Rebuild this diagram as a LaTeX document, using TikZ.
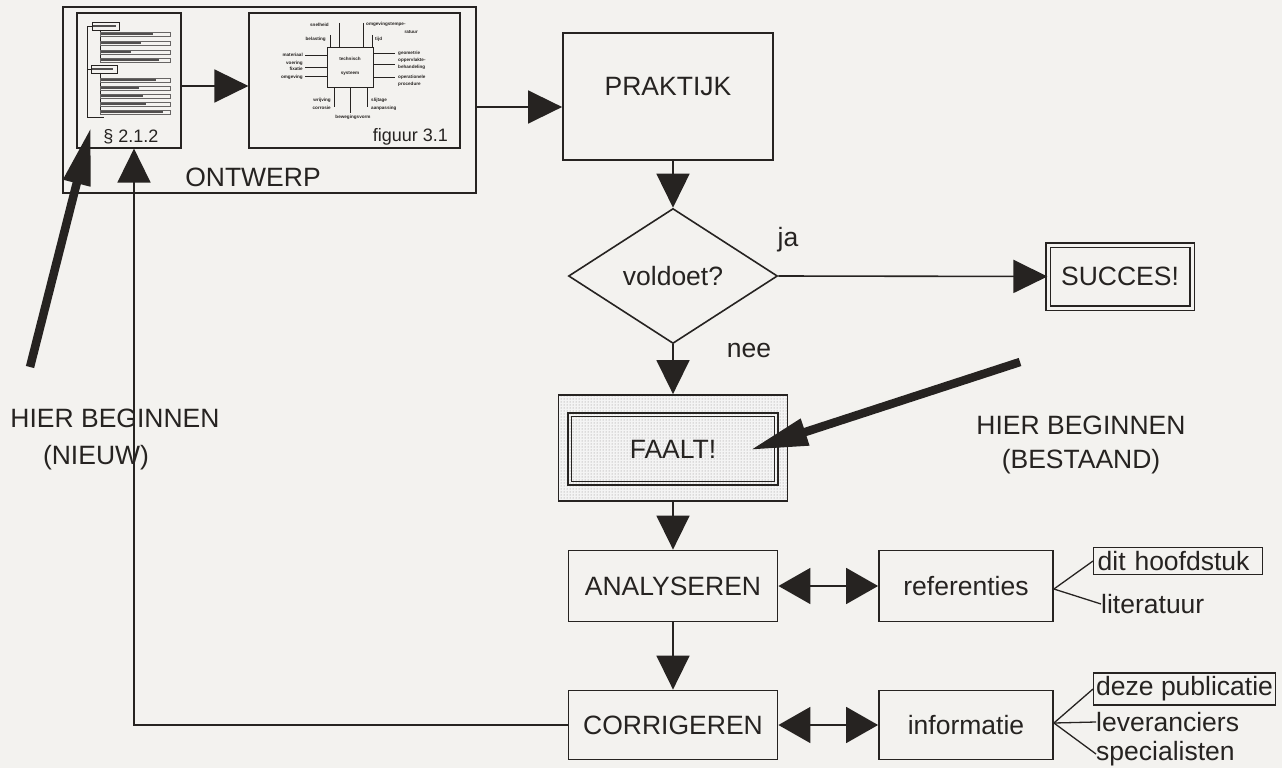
\documentclass[tikz,border=0pt]{standalone}
\usepackage{fontspec}
\setmainfont{Liberation Sans}
\usetikzlibrary{arrows.meta,shapes.geometric,patterns,calc}
\definecolor{paper}{RGB}{243,242,239}
\definecolor{ink}{RGB}{38,35,33}
\begin{document}
\begin{tikzpicture}[x=1pt,y=-1pt,line join=miter,
  every node/.style={text=ink},
  lbl/.style={font=\fontsize{26.5}{30}\selectfont, inner sep=0},
  small/.style={font=\fontsize{18}{20}\selectfont, inner sep=0},
  tiny/.style={font=\fontsize{4.6}{5}\selectfont\bfseries, inner sep=0},
  box/.style={draw=ink, line width=1.8, font=\fontsize{26.5}{30}\selectfont, inner sep=0},
  arr/.style={draw=ink, line width=1.6, -{Triangle[length=34,width=33]}},
  darr/.style={draw=ink, line width=1.6, {Triangle[length=32,width=36]}-{Triangle[length=32,width=36]}},
  bigarr/.style={draw=ink, line width=8.5, -{Triangle[length=58,width=26]}},
  thin/.style={draw=ink, line width=0.7}]
\fill[paper] (0,0) rectangle (1282,768);
\useasboundingbox (0,0) rectangle (1282,768);

% ---------- ONTWERP ----------
\node[box, line width=2.2, minimum width=413, minimum height=186] (ontwerp) at (269.5,100) {};
\node[lbl] (ontwerplbl) at (253,177) {ONTWERP};
\node[box, line width=1.2, minimum width=104, minimum height=135] (sec) at (129,80.5) {};
\node[small] (seclbl) at (131,137) {§ 2.1.2};
\node[box, line width=1.2, minimum width=211, minimum height=135] (fig) at (354.5,80.5) {};
\node[small, anchor=east] (figlbl) at (448,137) {figuur 3.1};

% outline thumbnail
\draw[thin] (92,22) rectangle (119,30);
\fill[ink!80] (93,25) rectangle (116,27.5);
\draw[thin] (91,65) rectangle (117,73);
\fill[ink!80] (92,68) rectangle (113,70.5);
\draw[thin] (92,26) -- (87,26) -- (87,117) -- (104,117);
\draw[thin] (87,69) -- (91,69);
\draw[thin] (100,30) -- (100,60);
\draw[thin] (100,73) -- (100,112);
\foreach \y/\l in {34/52,43/40,52/30,60/58}{
  \draw[thin, draw=ink!70] (100,\y-2) rectangle (170,\y+2);
  \fill[ink!80] (101,\y-1) rectangle (101+\l,\y+1);}
\foreach \y/\l in {80/55,88/38,96/42,104/45,112/62}{
  \draw[thin, draw=ink!70] (100,\y-2) rectangle (170,\y+2);
  \fill[ink!80] (101,\y-1) rectangle (101+\l,\y+1);}

% technical system thumbnail
\node[draw=ink, line width=0.8, minimum width=46, minimum height=40, inner sep=0] (tech) at (350,67) {};
\node[tiny] (t1) at (350,59) {technisch};
\node[tiny] (t2) at (350,73) {systeem};
\draw[thin] (330,35) -- (330,47);
\draw[thin] (339,23) -- (339,47);
\draw[thin] (363,23) -- (363,47);
\draw[thin] (372,35) -- (372,47);
\node[tiny, anchor=east] at (329,25) {snelheid};
\node[tiny, anchor=east] at (326,39) {belasting};
\node[tiny, anchor=west] at (366,24) {omgevingstempe-};
\node[tiny, anchor=east] at (418,32) {ratuur};
\node[tiny, anchor=west] at (375,39) {tijd};
\foreach \y in {55,67,76}{\draw[thin] (305,\y) -- (327,\y);}
\node[tiny, anchor=east] at (303,55) {materiaal};
\node[tiny, anchor=east] at (303,63) {voering};
\node[tiny, anchor=east] at (303,69) {fixatie};
\node[tiny, anchor=east] at (303,77) {omgeving};
\foreach \y in {53,64,77}{\draw[thin] (373,\y) -- (395,\y);}
\node[tiny, anchor=west] at (398,53) {geometrie};
\node[tiny, anchor=west] at (398,60) {oppervlakte-};
\node[tiny, anchor=west] at (398,67) {behandeling};
\node[tiny, anchor=west] at (398,77) {operationele};
\node[tiny, anchor=west] at (398,84) {procedure};
\draw[thin] (334,87) -- (334,107);
\draw[thin] (350,87) -- (350,113);
\draw[thin] (367,87) -- (367,107);
\node[tiny, anchor=east] at (331,100) {wrijving};
\node[tiny, anchor=east] at (331,108) {corrosie};
\node[tiny] at (353,117) {bewegingsvorm};
\node[tiny, anchor=west] at (371,100) {slijtage};
\node[tiny, anchor=west] at (371,108) {aanpassing};

\draw[arr] ([yshift=-5.5]sec.east) -- ([yshift=-5.5]fig.west);

% ---------- main flow ----------
\node[box, minimum width=210, minimum height=127] (praktijk) at (668,96.5) {};
\node[lbl] (praktijklbl) at (668,87) {PRAKTIJK};
\coordinate (oe) at ([yshift=-7]ontwerp.east);
\draw[arr] (oe) -- (praktijk.west |- oe);

\node[draw=ink, line width=1.6, diamond, minimum width=209, minimum height=135, inner sep=0, font=\fontsize{26.5}{30}\selectfont] (voldoet) at (673,276) {voldoet?};
\draw[arr] (voldoet.north |- praktijk.south) -- (voldoet.north);
\node[lbl] (ja) at (788,240) {ja};
\node[box, line width=1.1, double=paper, double distance=3, minimum width=144, minimum height=63] (succes) at (1120,276.5) {SUCCES!};
\draw[arr] (voldoet.east) -- (succes.west);
\node[lbl] (nee) at (749,350) {nee};

\node[draw=ink, line width=1.8, minimum width=229, minimum height=106, preaction={fill=ink!5}, pattern=dots, pattern color=ink!55] (faaltouter) at (673,448) {};
\node[box, line width=2.4, minimum width=210, minimum height=72] (faalt) at (673,449) {FAALT!};
\draw[draw=ink, line width=0.9] ([shift={(5,5)}]faalt.north west) rectangle ([shift={(-5,-5)}]faalt.south east);
\draw[arr] (voldoet.south) -- (faaltouter.north);

\node[box, minimum width=209, minimum height=71] (analyseren) at (673,586) {ANALYSEREN};
\node[box, minimum width=174, minimum height=71] (referenties) at (966,586) {referenties};
\node[box, minimum width=209, minimum height=69] (corrigeren) at (673,725) {CORRIGEREN};
\node[box, minimum width=174, minimum height=69] (informatie) at (966,725) {informatie};
\draw[arr] (faaltouter.south) -- (analyseren.north);
\draw[arr] (analyseren.south) -- (corrigeren.north);
\draw[darr] (analyseren.east) -- (referenties.west);
\draw[darr] (corrigeren.east) -- (informatie.west);

% lists
\node[lbl, draw=ink, line width=1.4, inner ysep=3.5, inner xsep=4, text width=161, align=left, anchor=west] (dit) at (1093,561) {dit hoofdstuk};
\node[lbl, anchor=west] (lit) at (1101,604) {literatuur};
\draw[draw=ink, line width=1.3] ([yshift=-3]referenties.east) -- (dit.west);
\draw[draw=ink, line width=1.3] ([yshift=-3]referenties.east) -- (lit.west);
\node[lbl, draw=ink, line width=1.4, inner ysep=3.5, inner xsep=2.5, anchor=west] (deze) at (1093,689) {deze publicatie};
\node[lbl, anchor=west] (lev) at (1096,722) {leveranciers};
\node[lbl, anchor=west] (spec) at (1096,754) {specialisten};
\draw[draw=ink, line width=1.3] ([yshift=2]informatie.east) -- (deze.west);
\draw[draw=ink, line width=1.3] ([yshift=2]informatie.east) -- (lev.west);
\draw[draw=ink, line width=1.3] ([yshift=2]informatie.east) -- (spec.west);

% feedback
\draw[arr] (corrigeren.west) -| ([xshift=5]sec.south);

% start arrows
\coordinate (newtail) at (30,367);
\coordinate (newtip) at (91,127);
\draw[bigarr] (newtail) -- (newtip);
\node[lbl] (hier1) at (115,418) {HIER BEGINNEN};
\node[lbl] (nieuw) at (96,458) {(NIEUW)};
\coordinate (oldtail) at (1020,362);
\coordinate (oldtip) at (750,450);
\draw[bigarr] (oldtail) -- (oldtip);
\node[lbl] (hier2) at (1081,425) {HIER BEGINNEN};
\node[lbl] (bestaand) at (1081,462) {(BESTAAND)};
\end{tikzpicture}
\end{document}
